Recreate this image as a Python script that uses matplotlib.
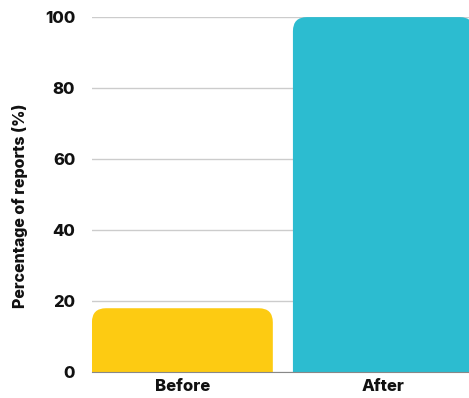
import matplotlib.pyplot as plt
from matplotlib.patches import FancyBboxPatch

categories = ['Before', 'After']
values = [18, 100]
colors = ['#FDCB12', '#2CBCD0']

plt.rcParams['font.family'] = ['Inter', 'DejaVu Sans']

fig = plt.figure(figsize=(4.69, 3.98), dpi=100)
ax = fig.add_axes([0.196, 0.065, 0.804, 0.892])

x = range(len(categories))
bars = ax.bar(x, values, width=0.9, color=colors)

ax.set_xlim(-0.45, 1.426)
ax.set_ylim(0, 100)

# swap the plain bars for ones with rounded top corners
fig.canvas.draw()
bbox = ax.get_window_extent()
px_per_x = bbox.width / (ax.get_xlim()[1] - ax.get_xlim()[0])
px_per_y = bbox.height / (ax.get_ylim()[1] - ax.get_ylim()[0])
aspect = px_per_x / px_per_y
r = 0.07
for b, c in zip(bars, colors):
    b.set_visible(False)
    ry = r * aspect
    p = FancyBboxPatch((b.get_x(), -ry), b.get_width(), b.get_height() + ry,
                       boxstyle=f'round,pad=0,rounding_size={r}',
                       mutation_aspect=aspect,
                       facecolor=c, edgecolor='none', zorder=2)
    ax.add_patch(p)

ax.set_yticks([0, 20, 40, 60, 80, 100])
ax.set_xticks(list(x))
ax.set_xticklabels(categories)
ax.yaxis.grid(True, color='#cccccc', linewidth=1)
ax.set_axisbelow(True)
for s in ['top', 'right', 'left']:
    ax.spines[s].set_visible(False)
ax.spines['bottom'].set_color('#888888')
ax.tick_params(axis='both', length=0, labelsize=12, pad=5)
ax.tick_params(axis='y', pad=12)
for lab in ax.get_xticklabels() + ax.get_yticklabels():
    lab.set_fontweight('heavy')
    lab.set_color('#111111')
ax.set_ylabel('Percentage of reports (%)', fontsize=11.5, fontweight='heavy', color='#111111')
ax.yaxis.set_label_coords(-0.17, 0.468)

fig.savefig('out.png', dpi=100)
